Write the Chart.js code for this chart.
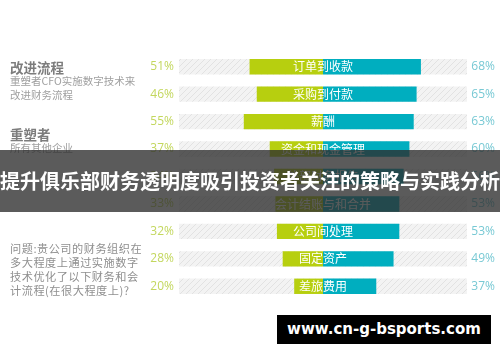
<!DOCTYPE html>
<html>
<head>
<meta charset="utf-8">
<script src="https://cdn.jsdelivr.net/npm/chart.js@4.4.0/dist/chart.umd.min.js"></script>
<style>
  body { margin: 0; background: #fff; }
  #wrap { position: relative; width: 500px; height: 362px; overflow: hidden; font-family: "Noto Sans CJK SC", "Noto Sans", sans-serif; }
  #c { position: absolute; left: 0; top: 0; }
  .t { position: absolute; white-space: nowrap; }
  .h { font-weight: bold; font-size: 13.5px; color: #7d7d7d; line-height: 16px; }
  .s { font-size: 10.5px; color: #a0a0a0; line-height: 14px; }
  .q { font-size: 11.2px; color: #8f8f8f; line-height: 14px; letter-spacing: 0.5px; }
  #band { position: absolute; left: 0; top: 150px; width: 500px; height: 62px; background: rgba(45,45,45,0.78);
          color: #fff; font-weight: bold; font-size: 20px; line-height: 62px; text-align: center; white-space: nowrap; }
  #wm { position: absolute; left: 277px; top: 315px; width: 214px; height: 29px; background: #000; color: #fff;
        font-family: "DejaVu Sans", sans-serif; font-weight: bold; font-size: 15px; line-height: 29px; text-align: center; }
</style>
</head>
<body>
<div id="wrap">
  <canvas id="c" width="500" height="362"></canvas>
  <div class="t h" style="left:10px;top:59px;">改进流程</div>
  <div class="t s" style="left:10px;top:74px;">重塑者CFO实施数字技术来<br>改进财务流程</div>
  <div class="t h" style="left:10px;top:126px;">重塑者</div>
  <div class="t s" style="left:10px;top:141px;">所有其他企业</div>
  <div class="t q" style="left:10px;top:241px;">问题:贵公司的财务组织在<br>多大程度上通过实施数字<br>技术优化了以下财务和会<br>计流程(在很大程度上)?</div>
  <div id="band">提升俱乐部财务透明度吸引投资者关注的策略与实践分析</div>
  <div id="wm">www.cn-g-bsports.com</div>
</div>
<script>
const categories = ['订单到收款', '采购到付款', '薪酬', '资金和现金管理', '外部财务报告', '会计结账与和合并', '公司间处理', '固定资产', '差旅费用'];
const allOthers = [51, 46, 55, 37, 34, 33, 32, 28, 20];
const reshapers = [68, 65, 63, 60, 56, 53, 53, 49, 37];

const GREEN = '#b7cf0f';
const TEAL = '#00aebf';

// hatched grey track
const pc = document.createElement('canvas');
pc.width = 6; pc.height = 6;
const px = pc.getContext('2d');
px.fillStyle = '#f3f3f3';
px.fillRect(0, 0, 6, 6);
px.strokeStyle = '#e2e2e2';
px.lineWidth = 1;
px.beginPath();
px.moveTo(0, 6); px.lineTo(6, 0);
px.moveTo(-3, 3); px.lineTo(3, -3);
px.moveTo(3, 9); px.lineTo(9, 3);
px.stroke();
const hatch = px.createPattern(pc, 'repeat');

const labelPlugin = {
  id: 'labels',
  afterDatasetsDraw(chart) {
    const ctx = chart.ctx;
    const y = chart.scales.y;
    const xs = chart.scales.x;
    ctx.save();
    ctx.textBaseline = 'middle';
    categories.forEach((name, i) => {
      const cy = y.getPixelForValue(i);
      ctx.font = '12px "Noto Sans CJK SC"';
      ctx.fillStyle = '#ffffff';
      ctx.textAlign = 'center';
      ctx.fillText(name, xs.getPixelForValue(0), cy);
      ctx.font = '12px "Open Sans", "Noto Sans"';
      ctx.fillStyle = '#c3d75e';
      ctx.textAlign = 'right';
      ctx.fillText(allOthers[i] + '%', 174, cy);
      ctx.fillStyle = '#78c9d4';
      ctx.fillText(reshapers[i] + '%', 495, cy);
    });
    ctx.restore();
  }
};

new Chart(document.getElementById('c'), {
  type: 'bar',
  data: {
    labels: categories,
    datasets: [
      {
        label: 'track',
        data: categories.map(() => [-100, 100]),
        backgroundColor: hatch,
        grouped: false,
        order: 3
      },
      {
        label: '所有其他企业',
        data: allOthers.map(v => [-v, 0]),
        backgroundColor: GREEN,
        grouped: false,
        order: 1
      },
      {
        label: '重塑者',
        data: reshapers.map(v => [0, v]),
        backgroundColor: TEAL,
        grouped: false,
        order: 1
      }
    ]
  },
  options: {
    indexAxis: 'y',
    responsive: false,
    animation: false,
    barPercentage: 0.56,
    categoryPercentage: 1,
    layout: { padding: { left: 179, right: 33, top: 53, bottom: 62 } },
    scales: {
      x: { display: false, min: -100, max: 100 },
      y: { display: false }
    },
    plugins: { legend: { display: false }, tooltip: { enabled: false } }
  },
  plugins: [labelPlugin]
});
</script>
</body>
</html>
